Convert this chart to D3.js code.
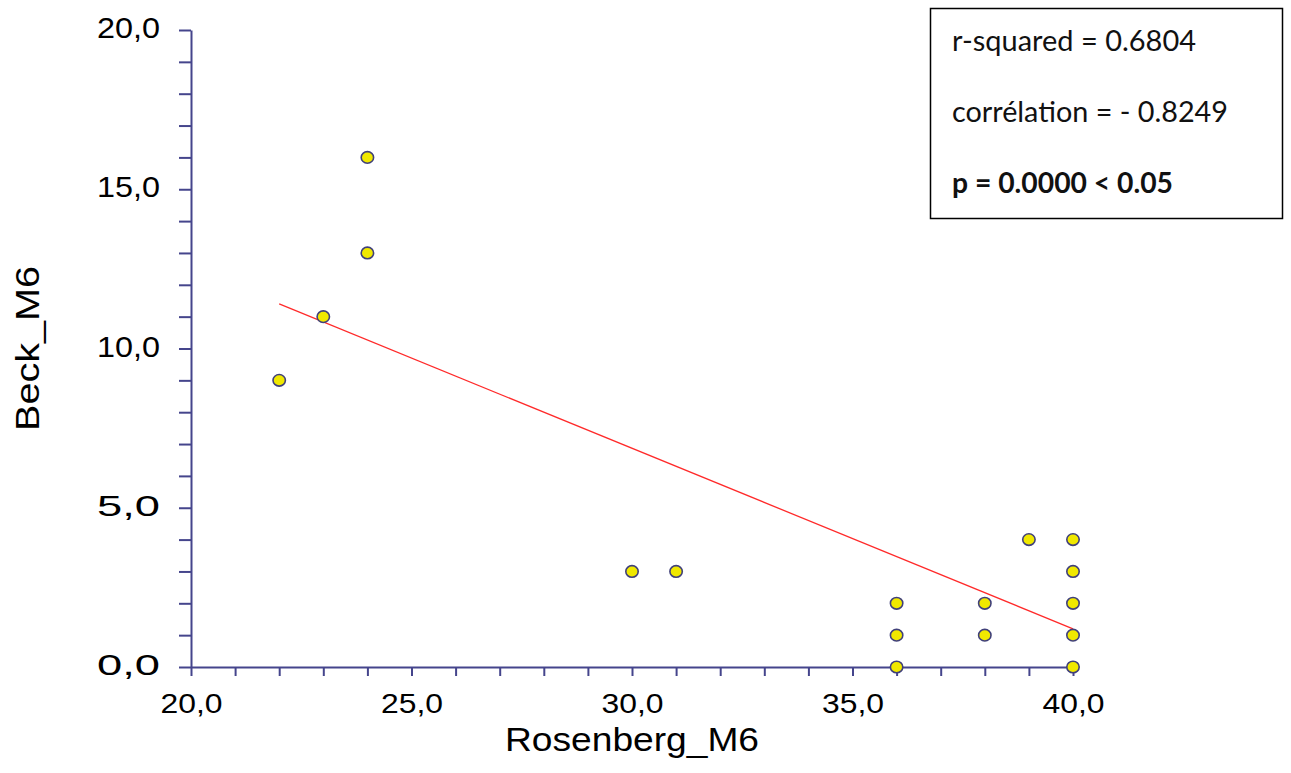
<!DOCTYPE html>
<html>
<head>
<meta charset="utf-8">
<script src="https://cdn.jsdelivr.net/npm/d3@7"></script>
<style>
  html, body { margin: 0; padding: 0; background: #ffffff; }
  svg { display: block; }
</style>
</head>
<body>
<svg id="chart" width="1291" height="773"></svg>
<script>
// ---- data ----
const rosenberg = [22, 23, 24, 24, 30, 31, 36, 36, 36, 38, 38, 39, 40, 40, 40, 40, 40];
const beck      = [9, 11, 16, 13, 3, 3, 2, 1, 0, 2, 1, 4, 4, 3, 2, 1, 0];
const fitX = [22, 40];
const fitY = [11.4, 1.2];
const xMinorTicks = [20,21,22,23,24,25,26,27,28,29,30,31,32,33,34,35,36,37,38,39,40];
const yMinorTicks = [0,1,2,3,4,5,6,7,8,9,10,11,12,13,14,15,16,17,18,19,20];
const xLabelTicks = [20, 25, 30, 35, 40];
const yLabelTicks = [0, 5, 10, 15, 20];
const xTitle = "Rosenberg_M6";
const yTitle = "Beck_M6";
const statsLines = ["r-squared = 0.6804", "corrélation = - 0.8249", "p = 0.0000 < 0.05"];

// ---- layout ----
const svg = d3.select("#chart");
svg.append("rect").attr("width", 1291).attr("height", 773).attr("fill", "#ffffff");

const x = d3.scaleLinear().domain([20, 40]).range([191, 1073]);
const y = d3.scaleLinear().domain([0, 20]).range([667, 30]);
const axisColor = "#45458c";
const fmt = v => d3.format(".1f")(v).replace(".", ",");
const sans = "'Liberation Sans', Arial, sans-serif";

// Y axis
const gy = svg.append("g").attr("transform", `translate(${x(20)},0)`)
  .call(d3.axisLeft(y).tickValues(yMinorTicks).tickSize(12).tickSizeOuter(0)
        .tickPadding(19).tickFormat(v => yLabelTicks.includes(v) ? fmt(v) : ""));
gy.select(".domain").attr("stroke", axisColor).attr("stroke-width", 2);
gy.selectAll(".tick line").attr("stroke", axisColor).attr("stroke-width", 2);
gy.selectAll(".tick text")
  .attr("fill", "#000").attr("font-family", sans)
  .attr("font-size", 30).attr("dy", "0.25em")
  .each(function(d){ if (yLabelTicks.includes(d)) d3.select(this).attr("textLength", 63).attr("lengthAdjust", "spacingAndGlyphs"); });

// X axis
const gx = svg.append("g").attr("transform", `translate(0,${y(0)})`)
  .call(d3.axisBottom(x).tickValues(xMinorTicks).tickSize(9).tickSizeOuter(0)
        .tickFormat(v => xLabelTicks.includes(v) ? fmt(v) : ""));
gx.select(".domain").attr("stroke", axisColor).attr("stroke-width", 2);
gx.selectAll(".tick line").attr("stroke", axisColor).attr("stroke-width", 2);
gx.selectAll(".tick text")
  .attr("fill", "#000").attr("font-family", sans)
  .attr("font-size", 28).attr("dy", null).attr("y", 46)
  .each(function(d){ if (xLabelTicks.includes(d)) d3.select(this).attr("textLength", 62).attr("lengthAdjust", "spacingAndGlyphs"); });

// Axis titles
svg.append("text")
  .attr("x", (x(20) + x(40)) / 2).attr("y", 751)
  .attr("text-anchor", "middle")
  .attr("font-family", sans).attr("font-size", 34)
  .attr("textLength", 254).attr("lengthAdjust", "spacingAndGlyphs")
  .text(xTitle);

svg.append("text")
  .attr("transform", `translate(39,${(y(0) + y(20)) / 2}) rotate(-90)`)
  .attr("text-anchor", "middle")
  .attr("font-family", sans).attr("font-size", 33)
  .attr("textLength", 165).attr("lengthAdjust", "spacingAndGlyphs")
  .text(yTitle);

// Regression line
svg.append("line")
  .attr("x1", x(fitX[0])).attr("y1", y(fitY[0]))
  .attr("x2", x(fitX[1])).attr("y2", y(fitY[1]))
  .attr("stroke", "#ff2a2a").attr("stroke-width", 1.3);

// Points
const pts = rosenberg.map((v, i) => ({ x: v, y: beck[i] }));
svg.append("g").selectAll("ellipse").data(pts).join("ellipse")
  .attr("cx", d => x(d.x)).attr("cy", d => y(d.y))
  .attr("rx", 6.2).attr("ry", 5.8)
  .attr("fill", "#f0e800").attr("stroke", "#40407a").attr("stroke-width", 1.6);

// Stats box
svg.append("rect")
  .attr("x", 930.5).attr("y", 8.5).attr("width", 352).attr("height", 210)
  .attr("fill", "#fff").attr("stroke", "#000").attr("stroke-width", 1.5);
const statWidths = [244, 276, 221];
const statBaselines = [51, 122, 193];
svg.append("g").selectAll("text").data(statsLines).join("text")
  .attr("x", 952).attr("y", (d, i) => statBaselines[i])
  .attr("font-family", "Lato, 'Open Sans', sans-serif").attr("font-size", 28)
  .attr("font-weight", (d, i) => i === 2 ? "bold" : "normal")
  .attr("fill", "#111")
  .attr("textLength", (d, i) => statWidths[i]).attr("lengthAdjust", "spacingAndGlyphs")
  .text(d => d);
</script>
</body>
</html>
